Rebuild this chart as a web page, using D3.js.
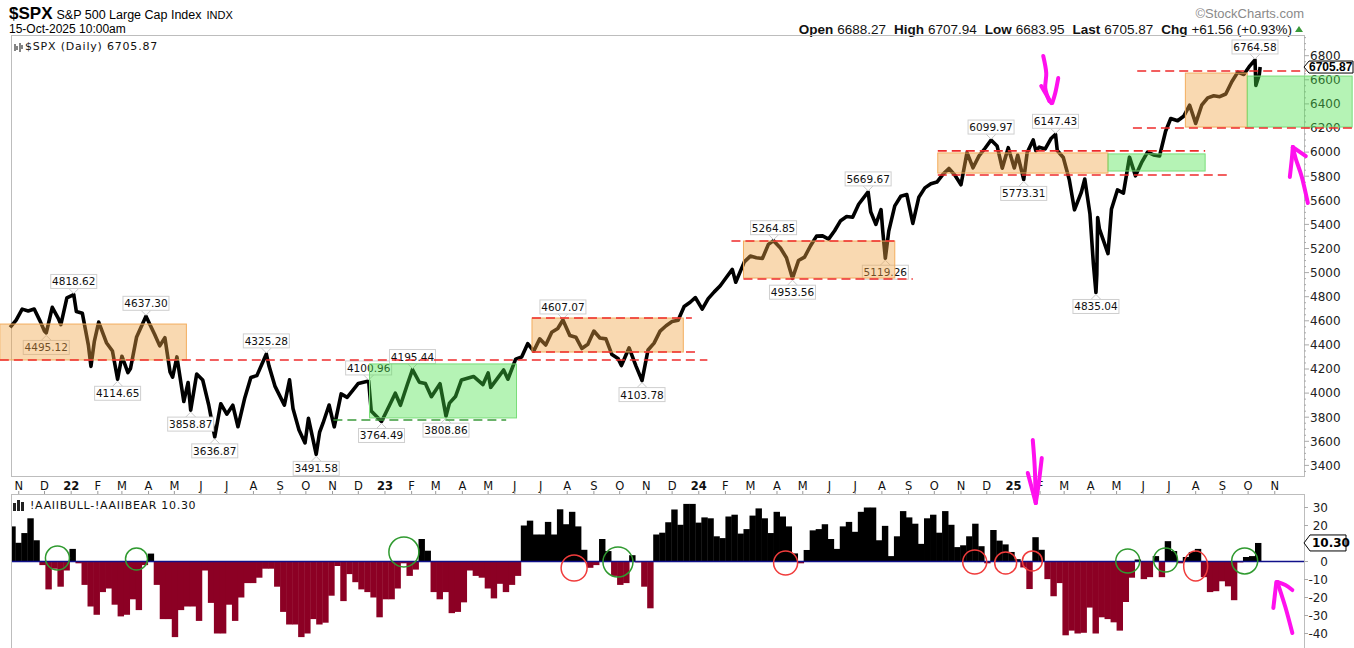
<!DOCTYPE html>
<html>
<head>
<meta charset="utf-8">
<script src="https://cdn.jsdelivr.net/npm/d3@7"></script>
<style>
  body { margin: 0; background: #fff; }
  text { font-family: "DejaVu Sans", sans-serif; }
</style>
</head>
<body>
<div id="chart"></div>
<script>
// S&P 500, weekly closes plus the marked swing highs / lows
var spx = [
  ["2021-10-22",4545],["2021-10-29",4605],["2021-11-05",4697],["2021-11-12",4682],["2021-11-19",4698],
  ["2021-11-26",4595],["2021-12-01",4513],["2021-12-03",4500],["2021-12-10",4712],["2021-12-17",4620],
  ["2021-12-20",4568],["2021-12-27",4791],["2022-01-04",4818],["2022-01-07",4677],["2022-01-14",4662],
  ["2022-01-21",4398],["2022-01-24",4222],["2022-01-28",4432],["2022-02-02",4589],["2022-02-11",4418],
  ["2022-02-18",4349],["2022-02-24",4115],["2022-03-01",4306],["2022-03-08",4170],["2022-03-11",4204],
  ["2022-03-18",4463],["2022-03-29",4637],["2022-04-08",4488],["2022-04-14",4392],["2022-04-20",4460],
  ["2022-04-26",4175],["2022-04-29",4132],["2022-05-04",4300],["2022-05-12",3930],["2022-05-17",4088],
  ["2022-05-20",3859],["2022-05-27",4158],["2022-06-03",4109],["2022-06-10",3901],["2022-06-17",3637],
  ["2022-06-24",3912],["2022-07-01",3825],["2022-07-08",3899],["2022-07-14",3721],["2022-07-22",3962],
  ["2022-07-29",4130],["2022-08-05",4145],["2022-08-16",4325],["2022-08-19",4228],["2022-08-26",4058],
  ["2022-09-06",3900],["2022-09-12",4110],["2022-09-16",3873],["2022-09-23",3693],["2022-09-30",3586],
  ["2022-10-04",3791],["2022-10-13",3492],["2022-10-17",3677],["2022-10-21",3752],["2022-10-28",3901],
  ["2022-11-03",3720],["2022-11-11",3993],["2022-11-18",3965],["2022-11-25",4026],["2022-12-01",4080],
  ["2022-12-13",4101],["2022-12-16",3852],["2022-12-28",3764],["2023-01-06",3895],["2023-01-13",3999],
  ["2023-01-19",3899],["2023-01-27",4071],["2023-02-02",4195],["2023-02-10",4090],["2023-02-17",4079],
  ["2023-02-24",3970],["2023-03-06",4078],["2023-03-13",3809],["2023-03-17",3917],["2023-03-24",3971],
  ["2023-03-31",4109],["2023-04-14",4138],["2023-04-25",4071],["2023-05-01",4167],["2023-05-04",4048],
  ["2023-05-12",4124],["2023-05-19",4192],["2023-05-24",4115],["2023-06-02",4282],["2023-06-09",4299],
  ["2023-06-16",4410],["2023-06-23",4348],["2023-06-30",4450],["2023-07-07",4399],["2023-07-14",4505],
  ["2023-07-21",4536],["2023-07-27",4607],["2023-08-04",4478],["2023-08-11",4464],["2023-08-18",4370],
  ["2023-08-25",4406],["2023-09-01",4515],["2023-09-08",4457],["2023-09-15",4450],["2023-09-22",4320],
  ["2023-09-29",4288],["2023-10-03",4229],["2023-10-12",4376],["2023-10-20",4224],["2023-10-27",4104],
  ["2023-11-03",4358],["2023-11-10",4415],["2023-11-17",4514],["2023-11-24",4559],["2023-12-01",4594],
  ["2023-12-08",4604],["2023-12-15",4719],["2023-12-22",4754],["2023-12-28",4793],["2024-01-05",4697],
  ["2024-01-12",4784],["2024-01-19",4840],["2024-01-26",4891],["2024-02-02",4959],["2024-02-09",5027],
  ["2024-02-13",4920],["2024-02-23",5089],["2024-03-01",5137],["2024-03-08",5124],["2024-03-15",5117],
  ["2024-03-22",5234],["2024-03-28",5265],["2024-04-05",5204],["2024-04-12",5123],["2024-04-19",4954],
  ["2024-04-26",5100],["2024-05-03",5128],["2024-05-10",5223],["2024-05-17",5303],["2024-05-24",5305],
  ["2024-05-31",5278],["2024-06-07",5347],["2024-06-14",5431],["2024-06-21",5465],["2024-06-28",5460],
  ["2024-07-05",5567],["2024-07-16",5670],["2024-07-19",5505],["2024-07-25",5400],["2024-07-31",5522],
  ["2024-08-02",5346],["2024-08-05",5119],["2024-08-09",5344],["2024-08-16",5554],["2024-08-23",5634],
  ["2024-08-30",5648],["2024-09-06",5408],["2024-09-13",5626],["2024-09-20",5703],["2024-09-27",5738],
  ["2024-10-04",5751],["2024-10-11",5815],["2024-10-18",5864],["2024-10-25",5808],["2024-11-01",5729],
  ["2024-11-08",5995],["2024-11-15",5870],["2024-11-22",5969],["2024-11-29",6032],["2024-12-06",6100],
  ["2024-12-13",6051],["2024-12-19",5867],["2024-12-26",6037],["2025-01-02",5868],["2025-01-06",5975],
  ["2025-01-13",5773],["2025-01-17",5997],["2025-01-24",6101],["2025-01-27",6012],["2025-01-31",6041],
  ["2025-02-07",6026],["2025-02-14",6115],["2025-02-19",6147],["2025-02-21",6013],["2025-02-28",5955],
  ["2025-03-07",5770],["2025-03-13",5521],["2025-03-21",5667],["2025-03-25",5777],["2025-03-31",5489],
  ["2025-04-04",5074],["2025-04-07",4835],["2025-04-08",4982],["2025-04-09",5457],["2025-04-11",5363],
  ["2025-04-21",5158],["2025-04-25",5525],["2025-05-02",5686],["2025-05-09",5660],["2025-05-16",5958],
  ["2025-05-23",5803],["2025-05-30",5912],["2025-06-06",6000],["2025-06-13",5977],["2025-06-20",5968],
  ["2025-06-27",6173],["2025-07-03",6279],["2025-07-11",6260],["2025-07-18",6297],["2025-07-25",6389],
  ["2025-08-01",6238],["2025-08-08",6389],["2025-08-15",6450],["2025-08-22",6467],["2025-08-29",6460],
  ["2025-09-05",6482],["2025-09-12",6584],["2025-09-19",6664],["2025-09-26",6644],["2025-10-03",6716],
  ["2025-10-09",6765],["2025-10-10",6553],["2025-10-14",6644],["2025-10-15",6706]
];

// AAII bulls minus bears, one reading per week from 21-Oct-2021
var aaiiStart = "2021-10-21";
var aaiiLast = "2025-10-16";
var aaii = [
  19.5,10.4,15.8,24,11.8,-2,-15.5,-4,-14,-5,
  7,-1,-13,-25,-29.6,-17,-15,-24,-30.5,-29.6,
  -21,-27,-2,4.4,-13,-32,-32,-42,-27,-25,
  -25,-33,-5,-23,-40,-40,-24,-33,-20,-12,
  -12,-9,-4,-4,-14,-28,-35,-35,-42,-40,
  -32,-35,-34,-19,
  -2.5,-22,-7,-11.5,-15.5,-17,-20,-31,-21,-21,
  -15,-1,-8,-4.5,12.5,6,-17,-21,-17,-28.7,
  -28,-22.7,-5,-8,-9,-15,-20.5,-12.4,-17,-13,
  -8,20,22.7,15,15,22,15,29,20.7,27.6,
  19.5,6.5,-3.5,-2,12.5,5.8,-8,-13,-12,3.5,
  -0.5,-14,-26,15,
  16,21.8,28.9,20.4,32,32,21.6,24.5,24,14,
  13,25,26,15.5,18,25.5,29.5,24,15.8,27.6,
  25,19.5,4.5,-1,6.4,17.3,18,20.7,12.5,7,
  19.5,22,16.5,27.6,30,30,11.8,19.8,3,14,
  28,24.5,21,9.8,24,26,16,28,20.4,8,
  9,14,21,8.5,-1,
  17.5,11.6,9.5,5.3,1.3,-3.3,-15.3,13.5,6.5,-9.8,
  -19.3,-12,-41,-38.4,-40,-39.6,-25.6,-40,-31,-32,
  -33.8,-38.4,-22.5,-9,1.1,-9.8,-8.7,3,-8.7,11.3,
  5.8,-1,2.5,5.3,7,-8.7,-17,-16.5,-11,-13.8,
  -21.5,-0.5,2.5,3,10.3
];

var priceTicks = [3400,3600,3800,4000,4200,4400,4600,4800,5000,5200,5400,5600,5800,6000,6200,6400,6600,6800];
var spreadTicks = [30,20,10,0,-10,-20,-30,-40];

// swing labels: date, value, side
var peaks = [
  ["2021-12-03",4495.12,"lo"],["2022-01-04",4818.62,"hi"],["2022-02-24",4114.65,"lo"],
  ["2022-03-29",4637.30,"hi"],["2022-05-20",3858.87,"lo"],["2022-06-17",3636.87,"lo"],
  ["2022-08-16",4325.28,"hi"],["2022-10-13",3491.58,"lo"],["2022-12-13",4100.96,"hi"],
  ["2022-12-28",3764.49,"lo"],["2023-02-02",4195.44,"hi"],["2023-03-13",3808.86,"lo"],
  ["2023-07-27",4607.07,"hi"],["2023-10-27",4103.78,"lo"],["2024-03-28",5264.85,"hi"],
  ["2024-04-19",4953.56,"lo"],["2024-07-16",5669.67,"hi"],["2024-08-05",5119.26,"lo"],
  ["2024-12-06",6099.97,"hi"],["2025-01-13",5773.31,"lo"],["2025-02-19",6147.43,"hi"],
  ["2025-04-07",4835.04,"lo"],["2025-10-09",6764.58,"hi"]
];

// shaded ranges: from, to, top, bottom, colour
var zones = [
  ["2021-10-10","2022-05-15",4573,4275,"o"],
  ["2022-12-14","2023-06-03",4242,3794,"g"],
  ["2023-06-21","2023-12-14",4623,4341,"o"],
  ["2024-02-22","2024-08-16",5262,4955,"o"],
  ["2024-10-05","2025-04-21",5993,5826,"o"],
  ["2025-04-21","2025-08-12",5985,5843,"g"],
  ["2025-07-20","2025-09-30",6656,6208,"o"],
  ["2025-09-30","2026-01-30",6631,6208,"g"]
];

// dashed levels: from, to, value, colour
var levels = [
  ["2021-10-10","2024-01-11",4275,"r"],
  ["2023-06-21","2023-12-24",4623,"r"],
  ["2023-06-21","2023-12-30",4341,"r"],
  ["2024-02-08","2024-08-16",5262,"r"],
  ["2024-02-22","2024-09-06",4947,"r"],
  ["2024-10-05","2025-08-12",6010,"r"],
  ["2024-10-05","2025-09-08",5810,"r"],
  ["2025-05-25","2025-12-07",6673,"r"],
  ["2025-05-20","2026-01-30",6200,"r"],
  ["2022-11-02","2023-05-22",3777,"g"]
];

// circled crossings in the sentiment panel: date, value, rx, ry, colour
var circles = [
  ["2021-12-16",1.9,12,12,"g"],["2022-03-18",1.4,11,11,"g"],["2023-01-23",5.3,15,15,"g"],
  ["2023-08-09",-3.6,13,13,"r"],["2023-09-29",-0.3,15,15,"g"],["2024-04-11",-0.8,12,12,"r"],
  ["2024-11-17",-0.3,12,12,"r"],["2024-12-23",-0.8,11,11,"r"],["2025-01-23",0.3,10,10,"r"],
  ["2025-05-14",0.3,12,12,"g"],["2025-06-27",0.8,12,12,"g"],["2025-08-01",-2.5,12,15,"r"],
  ["2025-09-27",0.3,13,13,"g"]
];

// hand-drawn arrows: anchor date, value, panel, strokes as pixel offsets from the tip
var pen = [
  ["2025-02-14",6407,"p",[[[-8,-47],[-5,-30],[-6,-15],[-2,-2]],[[-10,-17],[0,0]],[[7,-25],[4,-10],[1,0]]]],
  ["2025-11-22",6042,"p",[[[15,56],[9,30],[3,12],[0,0]],[[-3,30],[-1,12],[0,0]],[[13,9],[0,0]]]],
  ["2025-11-04",-11.4,"s",[[[15,51],[8,25],[0,0]],[[-4,26],[-1,0]],[[15,8],[8,3],[0,0]]]],
  ["2025-01-27",32.5,"s",[[[-3,-63],[-1,-35],[0,0]],[[-8,-30],[0,0]],[[6,-45],[3,-20],[0,0]]]]
];

var parse = d3.utcParse("%Y-%m-%d");

var svg = d3.select("#chart").append("svg")
    .attr("width", 1354)
    .attr("height", 648);

var x = d3.scaleUtc()
    .domain([parse("2021-10-23"), parse("2025-12-05")])
    .range([11, 1304]);
var y = d3.scaleLinear().domain([3400, 6800]).range([465.4, 55.7]);
var yb = d3.scaleLinear().domain([-40, 30]).range([633.5, 507.5]);

// header
var head = svg.append("text").attr("x", 9).attr("y", 19).style("font-family", "Liberation Sans, Arial");
head.append("tspan").attr("font-weight", "bold").attr("font-size", "17px").text("$SPX");
head.append("tspan").attr("font-size", "12.5px").attr("dx", 4).text("S&P 500 Large Cap Index");
head.append("tspan").attr("font-size", "11px").attr("dx", 5).text("INDX");

svg.append("text").attr("x", 9).attr("y", 33)
    .style("font-family", "Liberation Sans, Arial").attr("font-size", "12px")
    .text("15-Oct-2025 10:00am");

svg.append("text").attr("x", 1304).attr("y", 18).attr("text-anchor", "end")
    .style("font-family", "Liberation Sans, Arial").attr("font-size", "13px").attr("fill", "#8a8a8a")
    .text("\u00A9StockCharts.com");

var quote = svg.append("text").attr("x", 1292).attr("y", 34).attr("text-anchor", "end")
    .style("font-family", "Liberation Sans, Arial").attr("font-size", "13.5px").attr("fill", "#111");
[["Open", "6688.27"], ["High", "6707.94"], ["Low", "6683.95"], ["Last", "6705.87"], ["Chg", "+61.56 (+0.93%)"]]
  .forEach(function(q, i) {
    quote.append("tspan").attr("font-weight", "bold").attr("dx", i ? 8 : 0).text(q[0]);
    quote.append("tspan").attr("dx", 4).text(q[1]);
  });
svg.append("path").attr("d", "M1295,32 L1299,26 L1303,32 Z").attr("fill", "#3a9a3a");

// panel frames
svg.append("rect").attr("x", 11.5).attr("y", 35.5).attr("width", 1293).attr("height", 441)
    .attr("fill", "none").attr("stroke", "#bdbdbd");
svg.append("rect").attr("x", 11.5).attr("y", 494.5).attr("width", 1293).attr("height", 170)
    .attr("fill", "none").attr("stroke", "#bdbdbd");

// x axis month labels
var months = d3.utcMonth.range(x.domain()[0], x.domain()[1]).filter(function(d) { return x(d) < 1292; });
svg.append("g").selectAll("text")
  .data(months).enter().append("text")
    .attr("x", function(d) { return x(d); })
    .attr("y", 490)
    .attr("text-anchor", "middle")
    .attr("font-size", "11.5px")
    .attr("font-weight", function(d) { return d.getUTCMonth() === 0 ? "bold" : "normal"; })
    .attr("fill", "#111")
    .text(function(d) { return d.getUTCMonth() === 0 ? d3.utcFormat("%y")(d) : d3.utcFormat("%b")(d).charAt(0); });
svg.append("g").selectAll("line")
  .data(months).enter().append("line")
    .attr("x1", function(d) { return x(d); }).attr("x2", function(d) { return x(d); })
    .attr("y1", 494).attr("y2", 491)
    .attr("stroke", "#999");

// right axis, price
var pAxis = svg.append("g");
pAxis.selectAll("line.minor")
  .data(d3.range(3350, 6951, 50)).enter().append("line")
    .attr("x1", 1304).attr("x2", function(d) { return d % 200 === 0 ? 1309 : 1306; })
    .attr("y1", function(d) { return y(d); }).attr("y2", function(d) { return y(d); })
    .attr("stroke", "#aaa");
pAxis.selectAll("text")
  .data(priceTicks).enter().append("text")
    .attr("x", 1310)
    .attr("y", function(d) { return y(d); })
    .attr("dy", "0.36em")
    .attr("font-size", "12px")
    .attr("fill", "#222")
    .text(function(d) { return d; });

// price line
svg.append("path")
    .datum(spx)
    .attr("d", d3.line().x(function(d) { return x(parse(d[0])); }).y(function(d) { return y(d[1]); }))
    .attr("fill", "none")
    .attr("stroke", "#000")
    .attr("stroke-width", 3.6)
    .attr("stroke-linejoin", "round");

// swing labels
var lab = svg.append("g").selectAll("g")
  .data(peaks).enter().append("g")
    .attr("transform", function(d) { return "translate(" + x(parse(d[0])) + "," + y(d[1]) + ")"; });
lab.append("path")
    .attr("d", function(d) { return d[2] === "hi" ? "M-5,-6 L0,-1 L5,-6" : "M-5,7 L0,2 L5,7"; })
    .attr("fill", "#fff").attr("stroke", "#c8c8c8");
lab.append("rect")
    .attr("x", -23).attr("width", 46).attr("height", 14)
    .attr("y", function(d) { return d[2] === "hi" ? -20 : 7; })
    .attr("fill", "#fff").attr("stroke", "#cfcfcf");
lab.append("text")
    .attr("y", function(d) { return d[2] === "hi" ? -9 : 18; })
    .attr("text-anchor", "middle")
    .attr("font-size", "10.5px")
    .attr("fill", "#111")
    .text(function(d) { return d[1].toFixed(2); });

// shaded zones
var zoneFill = { o: "rgba(240,165,70,0.42)", g: "rgba(70,225,70,0.40)" };
var zoneLine = { o: "#f3ad5e", g: "#79dd79" };
svg.append("g").selectAll("rect")
  .data(zones).enter().append("rect")
    .attr("x", function(d) { return x(parse(d[0])); })
    .attr("width", function(d) { return x(parse(d[1])) - x(parse(d[0])); })
    .attr("y", function(d) { return y(d[2]); })
    .attr("height", function(d) { return y(d[3]) - y(d[2]); })
    .attr("fill", function(d) { return zoneFill[d[4]]; })
    .attr("stroke", function(d) { return zoneLine[d[4]]; });

// dashed levels
svg.append("g").selectAll("line")
  .data(levels).enter().append("line")
    .attr("x1", function(d) { return x(parse(d[0])); })
    .attr("x2", function(d) { return x(parse(d[1])); })
    .attr("y1", function(d) { return y(d[2]); })
    .attr("y2", function(d) { return y(d[2]); })
    .attr("stroke", function(d) { return d[3] === "r" ? "#ee2b2b" : "#3b9a3b"; })
    .attr("stroke-width", 1.6)
    .attr("stroke-dasharray", "9,5");

// last value tag, price
var lastY = y(6705.87);
svg.append("path")
    .attr("d", "M1304," + lastY + " L1309," + (lastY - 6) + " L1353," + (lastY - 6) + " L1353," + (lastY + 6) + " L1309," + (lastY + 6) + " Z")
    .attr("fill", "#fff").attr("stroke", "#000");
svg.append("text").attr("x", 1309).attr("y", lastY).attr("dy", "0.36em")
    .style("font-family", "Liberation Sans, Arial")
    .attr("font-size", "12px").attr("font-weight", "bold").text("6705.87");

// legends
var leg1 = svg.append("g").attr("transform", "translate(14,41)");
leg1.append("path").attr("d", "M1,3 V10 M3,5 V9 M6,2 V11 M8,4 V8").attr("stroke", "#333").attr("stroke-width", 1.2);
svg.append("text").attr("x", 25).attr("y", 50).attr("font-size", "11px").attr("letter-spacing", "0.8px")
    .attr("fill", "#111").text("$SPX (Daily) 6705.87");

var leg2 = svg.append("g").attr("transform", "translate(13,498)");
leg2.append("rect").attr("x", 0).attr("y", 5).attr("width", 3).attr("height", 8).attr("fill", "#222");
leg2.append("rect").attr("x", 4).attr("y", 2).attr("width", 3).attr("height", 11).attr("fill", "#222");
leg2.append("rect").attr("x", 8).attr("y", 4).attr("width", 3).attr("height", 9).attr("fill", "#222");
svg.append("text").attr("x", 30).attr("y", 509).attr("font-size", "11px").attr("letter-spacing", "0.7px")
    .attr("fill", "#111").text("!AAIIBULL-!AAIIBEAR 10.30");

// sentiment bars
svg.append("clipPath").attr("id", "lowclip")
  .append("rect").attr("x", 12).attr("y", 495).attr("width", 1292).attr("height", 160);

var week0 = parse(aaiiStart), weekEnd = parse(aaiiLast);
var bars = aaii.map(function(v, i) {
  var a = d3.utcDay.offset(week0, 7 * i);
  var b = d3.utcDay.offset(week0, 7 * (i + 1));
  return { a: a, b: b > weekEnd ? weekEnd : b, v: v };
});
svg.append("g").attr("clip-path", "url(#lowclip)")
  .selectAll("rect")
  .data(bars).enter().append("rect")
    .attr("x", function(d) { return x(d.a); })
    .attr("width", function(d) { return x(d.b) - x(d.a) + 0.4; })
    .attr("y", function(d) { return d.v >= 0 ? yb(d.v) : yb(0); })
    .attr("height", function(d) { return Math.abs(yb(d.v) - yb(0)); })
    .attr("fill", function(d) { return d.v >= 0 ? "#000" : "#8c0024"; });

svg.append("line")
    .attr("x1", 12).attr("x2", 1304)
    .attr("y1", yb(0)).attr("y2", yb(0))
    .attr("stroke", "#10108a").attr("stroke-width", 1.6);

// right axis, sentiment (the 10 label sits under the last-value tag)
var sAxis = svg.append("g");
sAxis.selectAll("line")
  .data(spreadTicks).enter().append("line")
    .attr("x1", 1304).attr("x2", 1308)
    .attr("y1", function(d) { return yb(d); }).attr("y2", function(d) { return yb(d); })
    .attr("stroke", "#aaa");
sAxis.selectAll("text")
  .data(spreadTicks.filter(function(d) { return d !== 10; })).enter().append("text")
    .attr("x", 1328)
    .attr("y", function(d) { return yb(d); })
    .attr("dy", "0.36em")
    .attr("text-anchor", "end")
    .attr("font-size", "12px")
    .attr("fill", "#222")
    .text(function(d) { return d; });

var tagY = yb(10.3);
svg.append("path")
    .attr("d", "M1304," + tagY + " L1310," + (tagY - 8) + " L1346," + (tagY - 8) + " L1346," + (tagY + 8) + " L1310," + (tagY + 8) + " Z")
    .attr("fill", "#fff").attr("stroke", "#000");
svg.append("text").attr("x", 1312).attr("y", tagY).attr("dy", "0.36em")
    .attr("font-size", "12px").attr("font-weight", "bold").text("10.30");

// circled crossings
svg.append("g").selectAll("ellipse")
  .data(circles).enter().append("ellipse")
    .attr("cx", function(d) { return x(parse(d[0])); })
    .attr("cy", function(d) { return yb(d[1]); })
    .attr("rx", function(d) { return d[2]; })
    .attr("ry", function(d) { return d[3]; })
    .attr("fill", "none")
    .attr("stroke", function(d) { return d[4] === "g" ? "#2f9a2f" : "#f03c3c"; })
    .attr("stroke-width", 1.5);

// magenta arrows
var pencil = d3.line().curve(d3.curveCardinal);
pen.forEach(function(p) {
  var ax = x(parse(p[0]));
  var ay = p[2] === "p" ? y(p[1]) : yb(p[1]);
  p[3].forEach(function(stroke) {
    svg.append("path")
        .attr("d", pencil(stroke.map(function(o) { return [ax + o[0], ay + o[1]]; })))
        .attr("fill", "none")
        .attr("stroke", "#ff10ee")
        .attr("stroke-width", 4)
        .attr("stroke-linecap", "round")
        .attr("stroke-linejoin", "round");
  });
});
</script>
</body>
</html>
